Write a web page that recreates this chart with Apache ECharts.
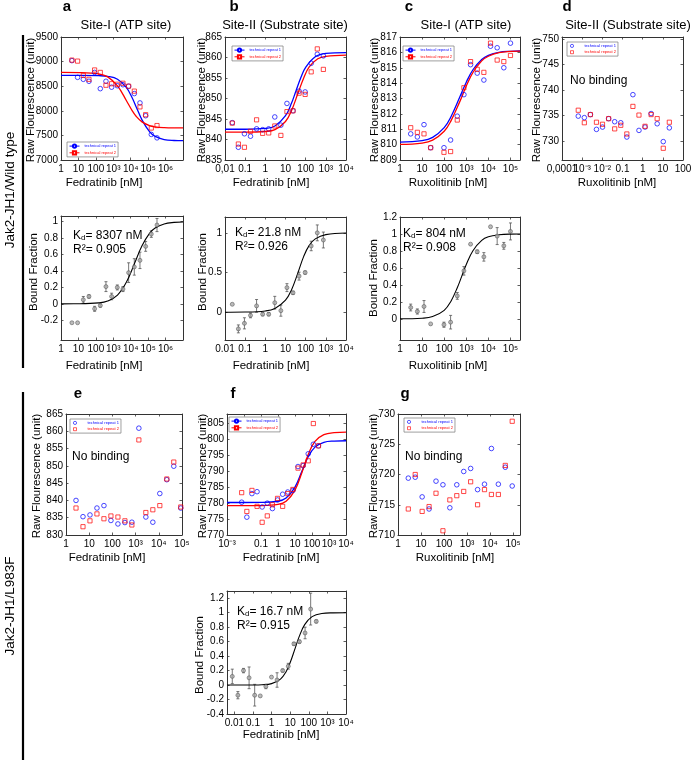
<!DOCTYPE html>
<html><head><meta charset="utf-8">
<script src="https://cdn.jsdelivr.net/npm/echarts@6/dist/echarts.min.js"></script>
<style>html,body{margin:0;padding:0;background:#fff}#c{width:700px;height:762px}</style>
</head><body><div id="c"></div>
<script>
// ================= DATA =================
// --- tick values / labels ---
const ticks1to1e6 = [1, 10, 100, 1000, 1e4, 1e5, 1e6];
const labels1to1e6 = ['1', '10', '100', '10³', '10⁴', '10⁵', '10⁶'];
const ticks1to1e5 = [1, 10, 100, 1000, 1e4, 1e5];
const labels1to1e5 = ['1', '10', '100', '10³', '10⁴', '10⁵'];
const ticks001to1e4 = [0.01, 0.1, 1, 10, 100, 1000, 1e4];
const labelsBTop = ['0,01', '0.1', '1', '10', '100', '10³', '10⁴'];
const labels001to1e4 = ['0.01', '0.1', '1', '10', '100', '10³', '10⁴'];
const ticksD = [0.0001, 0.001, 0.01, 0.1, 1, 10, 100];
const labelsD = ['0,0001', '10⁻³', '10⁻²', '0.1', '1', '10', '100'];
const ticksF = [0.001, 0.01, 0.1, 1, 10, 100, 1000, 1e4];
const labelsF = ['10⁻³', '10⁻²', '0.1', '1', '10', '100', '10³', '10⁴'];

const yTicksATop = [7000, 7500, 8000, 8500, 9000, 9500];
const yTicksBTop = [835, 840, 845, 850, 855, 860, 865];
const yTicksCTop = [809, 810, 811, 812, 813, 814, 815, 816, 817];
const yTicksDTop = [730, 735, 740, 745, 750];
const yTicksABot = [-0.2, 0, 0.2, 0.4, 0.6, 0.8, 1];
const yTicksBBot = [0, 0.5, 1];
const yTicksCBot = [0, 0.2, 0.4, 0.6, 0.8, 1, 1.2];
const yTicksE = [830, 835, 840, 845, 850, 855, 860, 865];
const yTicksF = [770, 775, 780, 785, 790, 795, 800, 805];
const yTicksG = [710, 715, 720, 725, 730];
const yTicksFBot = [-0.4, -0.2, 0, 0.2, 0.4, 0.6, 0.8, 1, 1.2];

// --- panel a : Fedratinib, Site-I, wild type ---
const aConc = [4.23, 8.95, 19.1, 40.2, 84.9, 180, 380, 803, 1700, 3590, 7590, 16080, 34000, 71900, 152000, 322000];
const aRep1 = [9020, 8680, 8640, 8600, 8780, 8450, 8600, 8480, 8510, 8530, 8500, 8350, 8160, 7900, 7520, 7450];
const aRep2 = [9030, 9010, 8720, 8640, 8830, 8780, 8520, 8550, 8540, 8560, 8500, 8400, 8080, 7920, 7650, 7700];
const aFitX = [1, 12, 145, 475, 1746, 5710, 12080, 20980, 44400, 119500, 252600, 829000, 3.05e6, 1e7];
const aFit1 = [8720, 8720, 8714, 8700, 8640, 8470, 8265, 8074, 7816, 7575, 7479, 7416, 7396, 7392];
const aFit2 = [8780, 8777, 8751, 8690, 8508, 8205, 8004, 7885, 7775, 7700, 7674, 7658, 7652, 7651];
const aBound = [-0.23, -0.23, 0.05, 0.09, -0.06, -0.02, 0.21, 0.09, 0.20, 0.18, 0.38, 0.45, 0.53, 0.70, 0.85, 0.96];
const aBoundErr = [0, 0, 0.04, 0.02, 0.03, 0.02, 0.06, 0.04, 0.03, 0.03, 0.12, 0.1, 0.1, 0.06, 0.04, 0.08];
const aBoundFitX = [1, 12, 145, 475, 1746, 5710, 17160, 44400, 119500, 252600, 829000, 3.05e6, 1e7];
const aBoundFitY = [0.0001, 0.0012, 0.012, 0.035, 0.107, 0.265, 0.5, 0.707, 0.858, 0.923, 0.973, 0.992, 0.997];

// --- panel b : Fedratinib, Site-II, wild type ---
const bConc = [0.023, 0.046, 0.092, 0.184, 0.368, 0.736, 1.47, 2.94, 5.89, 11.8, 23.6, 47.1, 94.2, 188, 377, 754];
const bRep1 = [844.1, 838.1, 841.4, 840.8, 842.6, 842.4, 842.6, 845.5, 843.5, 848.8, 847.0, 851.8, 851.6, 858.6, 860.8, 860.4];
const bRep2 = [844.0, 838.9, 838.1, 842.0, 844.8, 841.5, 841.6, 843.3, 841.0, 846.8, 847.0, 851.3, 851.0, 856.5, 862.1, 857.1];
const bFitX = [0.01, 0.1, 1, 3, 10, 20, 33, 60, 100, 300, 1000, 1e4];
const bFit1 = [842.5, 842.5, 842.7, 843.3, 845.8, 848.9, 851.85, 855.3, 857.6, 860.2, 861.0, 861.2];
const bFitX2 = [0.01, 0.1, 1, 3, 10, 20, 41, 80, 150, 400, 1000, 1e4];
const bFit2 = [841.8, 841.8, 841.95, 842.4, 844.4, 847.1, 851.2, 855.0, 857.7, 859.7, 860.3, 860.6];
const bBound = [0.1, -0.21, -0.14, -0.04, 0.08, -0.025, -0.025, 0.12, 0.02, 0.31, 0.245, 0.455, 0.5, 0.835, 1.0, 0.91];
const bBoundErr = [0, 0.05, 0.07, 0.03, 0.08, 0.02, 0.02, 0.08, 0.07, 0.05, 0.02, 0.05, 0.02, 0.06, 0.1, 0.1];
const bBoundFitX = [0.01, 0.1, 1, 3, 10, 20, 40, 80, 150, 300, 1000, 1e4];
const bBoundFitY = [0, 0.002, 0.016, 0.048, 0.152, 0.284, 0.486, 0.704, 0.842, 0.924, 0.978, 0.998];

// --- panel c : Ruxolitinib, Site-I, wild type ---
const cConc = [3.05, 6.1, 12.2, 24.4, 97.7, 195, 391, 781, 1563, 3125, 6250, 12500, 25000, 50000, 100000];
const cRep1 = [810.7, 810.5, 811.3, 809.8, 809.8, 810.3, 811.85, 813.25, 815.2, 814.65, 814.2, 816.4, 816.3, 815.0, 816.6];
const cRep2 = [811.1, 810.8, 810.7, 809.8, 809.5, 809.55, 811.6, 813.7, 815.4, 814.9, 814.7, 816.6, 815.5, 815.4, 815.8];
const cFitX = [1, 10, 30, 100, 200, 520, 1000, 2000, 5000, 1e4, 3e4, 1e5, 2.7e5];
const cFit1 = [810.16, 810.26, 810.47, 811.11, 811.8, 813.13, 814.06, 814.87, 815.54, 815.81, 816.0, 816.07, 816.09];
const cFit2 = [810.01, 810.1, 810.29, 810.87, 811.53, 812.83, 813.81, 814.69, 815.45, 815.75, 815.98, 816.06, 816.08];
const cBound = [0.133, 0.086, 0.145, -0.06, -0.07, -0.04, 0.27, 0.565, 0.88, 0.79, 0.73, 1.085, 0.975, 0.86, 1.03];
const cBoundErr = [0.04, 0.03, 0.07, 0, 0.03, 0.08, 0.04, 0.05, 0, 0.02, 0.05, 0, 0.1, 0.04, 0.1];
const cBoundFitX = [1, 10, 30, 100, 200, 400, 620, 1000, 2000, 5000, 1e4, 3e4, 1e5, 2.7e5];
const cBoundFitY = [0.0004, 0.007, 0.026, 0.1, 0.205, 0.372, 0.5, 0.64, 0.803, 0.924, 0.966, 0.99, 0.998, 0.999];

// --- panel d : Ruxolitinib, Site-II, wild type ---
const dConc = [0.00064, 0.00128, 0.00256, 0.00512, 0.0102, 0.0205, 0.041, 0.082, 0.164, 0.328, 0.655, 1.31, 2.62, 5.24, 10.5, 21];
const dRep1 = [734.9, 734.6, 735.2, 732.3, 732.75, 734.4, 733.8, 733.6, 730.8, 739.1, 732.1, 732.75, 735.4, 733.4, 729.9, 732.6];
const dRep2 = [736.05, 733.6, 735.2, 733.7, 733.3, 734.4, 732.4, 733.1, 731.4, 736.8, 735.1, 732.9, 735.2, 734.4, 728.6, 733.7];

// --- panel e : Fedratinib, Site-I, L983F ---
const eConc = [2.7, 5.4, 10.8, 21.6, 43.2, 86.4, 173, 346, 691, 1382, 2765, 5530, 11059, 22118, 44237, 88474];
const eRep1 = [840.0, 835.3, 835.8, 837.8, 838.5, 834.2, 833.2, 833.6, 833.7, 860.9, 835.2, 833.7, 842.0, 846.0, 849.9, 837.8];
const eRep2 = [837.8, 832.4, 834.1, 836.1, 834.7, 835.5, 835.2, 834.1, 832.9, 857.5, 836.5, 837.3, 838.5, 846.2, 851.1, 838.1];

// --- panel f : Fedratinib, Site-II, L983F ---
const fConc = [0.0073, 0.0147, 0.0293, 0.0586, 0.117, 0.234, 0.469, 0.938, 1.88, 3.75, 7.5, 15, 30, 60, 120, 240];
const fRep1 = [780.3, 775.6, 783.0, 783.6, 778.8, 780.0, 778.3, 781.0, 782.8, 783.5, 784.0, 791.5, 791.8, 795.5, 798.5, 798.0];
const fRep2 = [783.3, 777.4, 784.0, 779.0, 774.0, 776.0, 779.5, 781.5, 779.0, 783.0, 784.3, 791.0, 792.0, 793.3, 805.0, 798.0];
const fFitX = [0.001, 0.01, 0.1, 1, 3, 10, 25, 60, 150, 500, 2000, 1e4];
const fFit1 = [780.2, 780.2, 780.23, 780.6, 781.6, 785.05, 789.9, 794.6, 797.6, 799.1, 799.5, 799.6];
const fFit2 = [779.2, 779.2, 779.22, 779.6, 780.6, 784.1, 789.5, 795.3, 799.4, 801.5, 802.15, 802.3];
const fbConc = [0.0077, 0.0154, 0.0308, 0.0616, 0.123, 0.246, 0.493, 0.985, 1.97, 3.94, 7.88, 15.8, 31.5, 63, 126, 252];
const fbBound = [0.12, -0.14, 0.2, 0.1, -0.14, -0.15, -0.02, 0.11, 0.07, 0.2, 0.26, 0.57, 0.6, 0.72, 1.05, 0.88];
const fbBoundErr = [0.1, 0.05, 0.03, 0.15, 0.15, 0, 0.03, 0, 0.1, 0.02, 0.04, 0.02, 0.02, 0.08, 0.22, 0.02];
const fbFitX = [0.004, 0.1, 0.3, 1, 3, 6, 10, 18, 30, 60, 150, 500, 2000, 1e4];
const fbFitY = [0, 0.0009, 0.004, 0.02, 0.082, 0.185, 0.311, 0.5, 0.666, 0.835, 0.946, 0.989, 0.998, 1.0];

// --- panel g : Ruxolitinib, Site-I, L983F ---
const gConc = [2.8, 5.6, 11.2, 22.4, 44.8, 89.6, 179, 358, 717, 1434, 2867, 5734, 11469, 22938, 45875, 91750];
const gRep1 = [719.4, 719.55, 716.3, 714.3, 718.9, 718.3, 714.5, 718.3, 720.5, 721.0, 717.5, 718.4, 724.3, 718.4, 721.2, 718.1];
const gRep2 = [714.3, 720.0, 713.9, 714.7, 716.9, 710.7, 715.8, 716.5, 717.2, 718.8, 715.0, 717.5, 716.7, 716.7, 721.5, 728.8];

// ================= STYLE / LAYOUT =================
const FONT = '"Liberation Sans", Arial, Helvetica, sans-serif';
const BLUE = '#0000ff', RED = '#ff0000', AXC = '#333', TXC = '#000';
const REP1 = 'technical repeat 1', REP2 = 'technical repeat 2';
// small marker-only legend icons (path bbox padded to the full icon box so the marker keeps its shape)
const ICON_CIRCLE = 'path://M0,0M10,4M1,2a1.6,1.6 0 1,0 3.2,0a1.6,1.6 0 1,0 -3.2,0z';
const ICON_SQUARE = 'path://M0,0M10,4M1.1,0.5h3v3h-3z';

const option = {
  animation: false,
  backgroundColor: '#fff',
  textStyle: { fontFamily: FONT },
  grid: [], xAxis: [], yAxis: [], series: [], legend: [], graphic: []
};

function addPanel(box, xRange, xTicks, xLabels, yRange, yTicks, altTicks) {
  const gi = option.grid.length;
  option.grid.push({ left: box[0], top: box[1], width: box[2], height: box[3], show: false });
  const line = { show: true, onZero: false, lineStyle: { color: AXC, width: 1 } };
  const tick = (vals) => ({ show: true, inside: true, length: 2.5, customValues: vals, lineStyle: { color: AXC, width: 0.8 } });
  const xfmt = (v) => {
    const i = xTicks.findIndex(t => Math.abs(Math.log10(t) - Math.log10(v)) < 1e-6);
    return i < 0 ? '' : xLabels[i];
  };
  const labelVals = altTicks ? xTicks.filter(t => altTicks.indexOf(t) < 0) : xTicks;
  const xLab = (vals) => ({ customValues: vals, formatter: xfmt, fontSize: 10, color: TXC, fontFamily: FONT, margin: 4,
      showMinLabel: true, showMaxLabel: true, hideOverlap: false });
  const xi = option.xAxis.length;
  const xBase = { type: 'log', logBase: 10, gridIndex: gi, min: xRange[0], max: xRange[1],
    axisLine: line, splitLine: { show: false }, minorTick: { show: false }, axisTick: tick(xTicks) };
  option.xAxis.push(Object.assign({}, xBase, { position: 'bottom', axisLabel: xLab(labelVals) }));
  option.xAxis.push(Object.assign({}, xBase, { position: 'top', axisLabel: { show: false } }));
  if (altTicks) {
    option.xAxis.push(Object.assign({}, xBase, { position: 'bottom', axisLine: { show: false },
      axisTick: { show: false }, axisLabel: xLab(altTicks) }));
  }
  const yi = option.yAxis.length;
  const yBase = { type: 'value', gridIndex: gi, min: yRange[0], max: yRange[1],
    axisLine: line, splitLine: { show: false }, axisTick: tick(yTicks) };
  option.yAxis.push(Object.assign({}, yBase, { position: 'left',
    axisLabel: { customValues: yTicks, formatter: (v) => String(v), fontSize: 10, color: TXC, fontFamily: FONT, margin: 3,
      showMinLabel: true, showMaxLabel: true, hideOverlap: false } }));
  option.yAxis.push(Object.assign({}, yBase, { position: 'right', axisLabel: { show: false } }));
  return { xi, yi };
}

function addCurve(ax, name, xs, ys, color, sym) {
  option.series.push({ type: 'line', name, xAxisIndex: ax.xi, yAxisIndex: ax.yi,
    data: xs.map((x, i) => [x, ys[i]]), showSymbol: false, symbol: sym, symbolSize: 4,
    smooth: 0.4, lineStyle: { color, width: 1.3 }, itemStyle: { color }, silent: true, z: 3 });
}
function addPoints(ax, name, xs, ys, color, sym) {
  option.series.push({ type: 'scatter', name, xAxisIndex: ax.xi, yAxisIndex: ax.yi,
    data: xs.map((x, i) => [x, ys[i]]), symbol: sym, symbolSize: sym === 'rect' ? 4.2 : 4.6,
    itemStyle: { color: 'rgba(255,255,255,0)', borderColor: color, borderWidth: 0.9 }, silent: true, z: 4 });
}
function addBound(ax, xs, ys, errs, fitX, fitY) {
  option.series.push({ type: 'custom', xAxisIndex: ax.xi, yAxisIndex: ax.yi, silent: true, z: 2,
    data: xs.map((x, i) => [x, ys[i], errs[i]]), encode: { x: 0, y: 1 },
    renderItem: (params, api) => {
      const x = api.value(0), y = api.value(1), e = api.value(2);
      if (!e) return null;
      const p1 = api.coord([x, y + e]), p2 = api.coord([x, y - e]);
      const st = { stroke: '#555', lineWidth: 0.8 };
      return { type: 'group', children: [
        { type: 'line', shape: { x1: p1[0], y1: p1[1], x2: p2[0], y2: p2[1] }, style: st },
        { type: 'line', shape: { x1: p1[0] - 1.5, y1: p1[1], x2: p1[0] + 1.5, y2: p1[1] }, style: st },
        { type: 'line', shape: { x1: p2[0] - 1.5, y1: p2[1], x2: p2[0] + 1.5, y2: p2[1] }, style: st }
      ] };
    } });
  option.series.push({ type: 'line', xAxisIndex: ax.xi, yAxisIndex: ax.yi,
    data: fitX.map((x, i) => [x, fitY[i]]), showSymbol: false, smooth: 0.4,
    lineStyle: { color: '#000', width: 1.1 }, silent: true, z: 3 });
  option.series.push({ type: 'scatter', xAxisIndex: ax.xi, yAxisIndex: ax.yi,
    data: xs.map((x, i) => [x, ys[i]]), symbol: 'circle', symbolSize: 4,
    itemStyle: { color: '#aaa', borderColor: '#555', borderWidth: 0.7 }, silent: true, z: 4 });
}
function addLegend(left, top, n1, n2, markersOnly) {
  const item = (name, color, icon) => {
    const d = { name, textStyle: { color } };
    if (markersOnly) {
      d.icon = icon;
      d.itemStyle = { color: 'rgba(255,255,255,0)', borderColor: color, borderWidth: 0.8 };
    }
    return d;
  };
  option.legend.push({ left, top, orient: 'vertical', selectedMode: false,
    data: [item(n1, BLUE, ICON_CIRCLE), item(n2, RED, ICON_SQUARE)],
    formatter: (n) => n.split('|')[0],
    itemWidth: 10, itemHeight: 4, itemGap: 1.5, padding: [1.5, 2, 1.5, 2],
    itemStyle: { borderWidth: 0.8 }, lineStyle: { width: 1 },
    backgroundColor: '#fff', borderColor: '#777', borderWidth: 0.7,
    textStyle: { fontSize: 4, fontFamily: FONT } });
}
function txt(text, x, y, o) {
  o = o || {};
  option.graphic.push({ type: 'text', x, y, rotation: o.rot || 0, silent: true, z: 50,
    style: { text, fontSize: o.fs || 11, fontFamily: FONT, fontWeight: o.bold ? 'bold' : 'normal', fill: '#000',
      align: o.align || 'center', textAlign: o.align || 'center',
      verticalAlign: 'middle', textVerticalAlign: 'middle', rich: o.rich } });
}

// ================= BUILD PANELS =================
const axA = addPanel([61, 37, 122, 123], [1, 1e7], ticks1to1e6, labels1to1e6, [7000, 9500], yTicksATop);
addCurve(axA, REP1, aFitX, aFit1, BLUE, 'emptyCircle');
addCurve(axA, REP2, aFitX, aFit2, RED, 'emptyRect');
addPoints(axA, REP1 + '|s', aConc, aRep1, BLUE, 'circle');
addPoints(axA, REP2 + '|s', aConc, aRep2, RED, 'rect');
addLegend(67, 142, REP1, REP2);

const axB = addPanel([225, 37, 121, 123], [0.01, 1e4], ticks001to1e4, labelsBTop, [835, 865], yTicksBTop);
addCurve(axB, REP1, bFitX, bFit1, BLUE, 'emptyCircle');
addCurve(axB, REP2, bFitX2, bFit2, RED, 'emptyRect');
addPoints(axB, REP1 + '|s', bConc, bRep1, BLUE, 'circle');
addPoints(axB, REP2 + '|s', bConc, bRep2, RED, 'rect');
addLegend(232, 46, REP1, REP2);

const axC = addPanel([400, 37, 120, 123], [1, 2.7e5], ticks1to1e5, labels1to1e5, [809, 817], yTicksCTop);
addCurve(axC, REP1, cFitX, cFit1, BLUE, 'emptyCircle');
addCurve(axC, REP2, cFitX, cFit2, RED, 'emptyRect');
addPoints(axC, REP1 + '|s', cConc, cRep1, BLUE, 'circle');
addPoints(axC, REP2 + '|s', cConc, cRep2, RED, 'rect');
addLegend(403, 46, REP1, REP2);

const axD = addPanel([562, 37, 121, 123], [1e-4, 100], ticksD, labelsD, [726.3, 750.4], yTicksDTop, [0.001, 0.1, 10]);
addPoints(axD, REP1 + '|p', dConc, dRep1, BLUE, 'circle');
addPoints(axD, REP2 + '|p', dConc, dRep2, RED, 'rect');
addLegend(567, 42, REP1 + '|p', REP2 + '|p', true);

const axAB = addPanel([61, 216, 122, 124], [1, 1e7], ticks1to1e6, labels1to1e6, [-0.44, 1.07], yTicksABot);
addBound(axAB, aConc, aBound, aBoundErr, aBoundFitX, aBoundFitY);
const axBB = addPanel([225, 217, 121, 123], [0.01, 1e4], ticks001to1e4, labels001to1e4, [-0.35, 1.2], yTicksBBot);
addBound(axBB, bConc, bBound, bBoundErr, bBoundFitX, bBoundFitY);
const axCB = addPanel([400, 217, 120, 123], [1, 2.7e5], ticks1to1e5, labels1to1e5, [-0.25, 1.2], yTicksCBot);
addBound(axCB, cConc, cBound, cBoundErr, cBoundFitX, cBoundFitY);

const axE = addPanel([66, 414, 116, 121], [1, 1e5], ticks1to1e5, labels1to1e5, [830, 865], yTicksE);
addPoints(axE, REP1 + '|p', eConc, eRep1, BLUE, 'circle');
addPoints(axE, REP2 + '|p', eConc, eRep2, RED, 'rect');
addLegend(70, 419, REP1 + '|p', REP2 + '|p', true);

const axF = addPanel([227, 414, 119, 121], [1e-3, 1e4], ticksF, labelsF, [770, 808], yTicksF);
addCurve(axF, REP1, fFitX, fFit1, BLUE, 'emptyCircle');
addCurve(axF, REP2, fFitX, fFit2, RED, 'emptyRect');
addPoints(axF, REP1 + '|s', fConc, fRep1, BLUE, 'circle');
addPoints(axF, REP2 + '|s', fConc, fRep2, RED, 'rect');
addLegend(229, 417, REP1, REP2);

const axG = addPanel([398, 414, 122, 121], [1, 2e5], ticks1to1e5, labels1to1e5, [710, 730], yTicksG);
addPoints(axG, REP1 + '|p', gConc, gRep1, BLUE, 'circle');
addPoints(axG, REP2 + '|p', gConc, gRep2, RED, 'rect');
addLegend(404, 418, REP1 + '|p', REP2 + '|p', true);

const axFB = addPanel([227, 591, 119, 123], [0.004, 1e4], ticks001to1e4, labels001to1e4, [-0.4, 1.3], yTicksFBot);
addBound(axFB, fbConc, fbBound, fbBoundErr, fbFitX, fbFitY);

// ================= TEXT =================
const R90 = Math.PI / 2;
[['a', 67, 7], ['b', 234, 7], ['c', 409, 7], ['d', 567, 7], ['e', 78, 394], ['f', 233, 394], ['g', 405, 394]]
  .forEach(([t, x, y]) => txt(t, x, y, { fs: 15, bold: true }));
txt('Site-I (ATP site)', 126, 25, { fs: 13 });
txt('Site-II (Substrate site)', 285, 25, { fs: 13 });
txt('Site-I (ATP site)', 466, 25, { fs: 13 });
txt('Site-II (Substrate site)', 628, 25, { fs: 13 });
[[31, 100], [202, 100], [375, 100], [537, 100], [37, 476], [203, 476], [374, 476]]
  .forEach(([x, y]) => txt('Raw Flourescence (unit)', x, y, { fs: 11.5, rot: R90 }));
[[34, 272], [203, 272], [374, 278], [200, 655]]
  .forEach(([x, y]) => txt('Bound Fraction', x, y, { fs: 11.5, rot: R90 }));
[['Fedratinib [nM]', 104, 183], ['Fedratinib [nM]', 271, 183], ['Ruxolitinib [nM]', 448, 183], ['Ruxolitinib [nM]', 617, 183],
 ['Fedratinib [nM]', 104, 366], ['Fedratinib [nM]', 271, 366], ['Ruxolitinib [nM]', 448, 366],
 ['Fedratinib [nM]', 107, 558], ['Fedratinib [nM]', 281, 558], ['Ruxolitinib [nM]', 455, 558],
 ['Fedratinib [nM]', 281, 735]].forEach(([t, x, y]) => txt(t, x, y, { fs: 11.5 }));
const richSub = { s: { fontSize: 8, fontFamily: FONT, verticalAlign: 'bottom' }, n: { fontSize: 12, fontFamily: FONT } };
[['8307', '0.905', 73, 236], ['21.8', '0.926', 235, 233], ['804', '0.908', 403, 234], ['16.7', '0.915', 237, 612]]
  .forEach(([kd, r2, x, y]) => {
    txt('{n|K}{s|d}{n|= ' + kd + ' nM}', x, y, { fs: 12, align: 'left', rich: richSub });
    txt('R²= ' + r2, x, y + 14, { fs: 12, align: 'left' });
  });
[[570, 81], [72, 457], [405, 457]].forEach(([x, y]) => txt('No binding', x, y, { fs: 12, align: 'left' }));
txt('Jak2-JH1/Wild type', 10, 190, { fs: 13.5, rot: R90 });
txt('Jak2-JH1/L983F', 10, 606, { fs: 13.5, rot: R90 });
option.graphic.push({ type: 'line', silent: true, shape: { x1: 23, y1: 35, x2: 23, y2: 368 }, style: { stroke: '#000', lineWidth: 2.2 } });
option.graphic.push({ type: 'line', silent: true, shape: { x1: 23, y1: 392, x2: 23, y2: 760 }, style: { stroke: '#000', lineWidth: 2.2 } });

const chart = echarts.init(document.getElementById('c'), null, { renderer: 'canvas' });
chart.setOption(option);
</script>
</body></html>
